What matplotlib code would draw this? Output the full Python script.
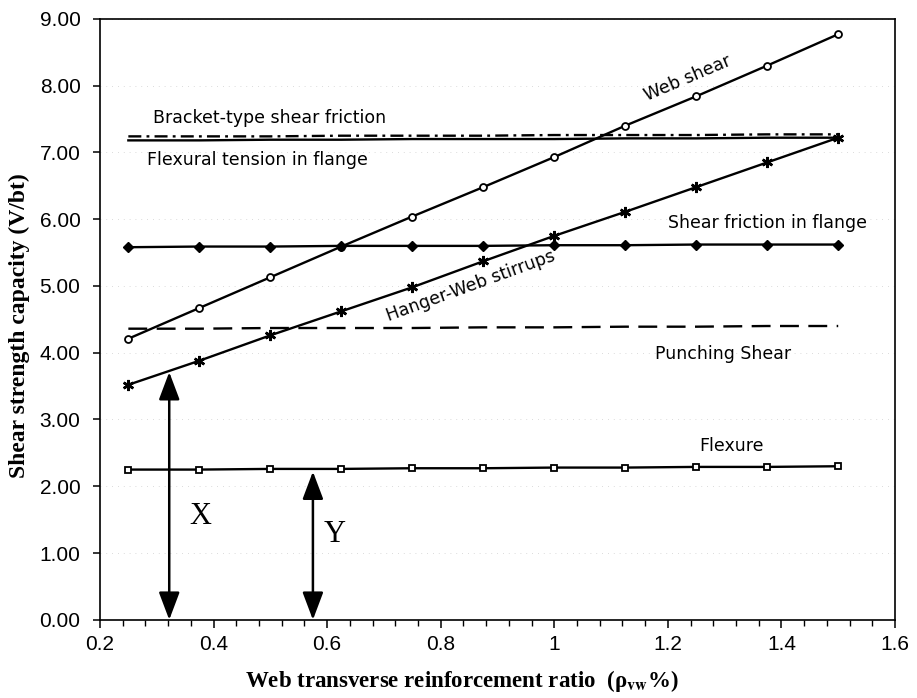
import matplotlib.pyplot as plt
import numpy as np

plt.rcParams['mathtext.fontset'] = 'stix'

# web transverse reinforcement ratio (%)
rho = [0.25, 0.375, 0.5, 0.625, 0.75, 0.875, 1.0, 1.125, 1.25, 1.375, 1.5]

web_shear = [4.21, 4.67, 5.13, 5.59, 6.04, 6.48, 6.93, 7.40, 7.84, 8.30, 8.77]
hanger_web = [3.52, 3.88, 4.26, 4.62, 4.98, 5.37, 5.75, 6.11, 6.48, 6.85, 7.22]
shear_friction_flange = [5.58, 5.59, 5.59, 5.60, 5.60, 5.60, 5.61, 5.61, 5.62, 5.62, 5.62]
flexure = [2.25, 2.25, 2.26, 2.26, 2.27, 2.27, 2.28, 2.28, 2.29, 2.29, 2.30]
punching_shear = [4.36, 4.36, 4.37, 4.37, 4.37, 4.38, 4.38, 4.39, 4.39, 4.40, 4.40]
bracket_friction = [7.24, 7.24, 7.24, 7.25, 7.25, 7.25, 7.26, 7.26, 7.26, 7.27, 7.27]
flexural_tension = [7.18, 7.18, 7.19, 7.19, 7.20, 7.20, 7.20, 7.21, 7.21, 7.22, 7.22]

# X and Y arrows
arrow_x = [0.322, 0.575]
arrow_top = [3.71, 2.22]
arrow_names = ['X', 'Y']

fig = plt.figure(figsize=(9.17, 6.98), dpi=100)
ax = fig.add_axes([0.109, 0.112, 0.867, 0.861])

lw = 1.7
ax.plot(rho, web_shear, '-', color='black', lw=lw, marker='o', ms=5,
        mfc='white', mec='black', mew=1.3)
ax.plot(rho, hanger_web, '-', color='black', lw=lw, marker=(6, 2, 0), ms=8,
        mec='black', mew=1.8)
ax.plot(rho, shear_friction_flange, '-', color='black', lw=lw, marker='D', ms=5,
        mfc='black', mec='black')
ax.plot(rho, flexure, '-', color='black', lw=lw, marker='s', ms=5,
        mfc='white', mec='black', mew=1.3)
ax.plot(rho, punching_shear, color='black', lw=lw, linestyle=(0, (8, 4)))
ax.plot(rho, bracket_friction, color='black', lw=lw, linestyle=(0, (5.5, 2.2, 1.2, 2.2)))
ax.plot(rho, flexural_tension, '-', color='black', lw=lw)

for xa, ya, name, dx, dy in zip(arrow_x, arrow_top, arrow_names, [0.054, 0.039], [1.55, 1.28]):
    ax.annotate('', xy=(xa, ya), xytext=(xa, 0.0),
                arrowprops=dict(arrowstyle='<|-|>,head_length=0.85,head_width=0.32',
                                mutation_scale=20, color='black', lw=1.8,
                                shrinkA=0, shrinkB=0))
    ax.text(xa + dx, dy, name, family='Liberation Serif', fontsize=22,
            ha='center', va='center')

lab = dict(family='DejaVu Sans', fontsize=12.5, color='black')
ax.text(0.293, 7.51, 'Bracket-type shear friction', ha='left', va='center', **lab)
ax.text(0.283, 6.88, 'Flexural tension in flange', ha='left', va='center', **lab)
ax.text(1.20, 5.95, 'Shear friction in flange', ha='left', va='center', **lab)
ax.text(1.177, 3.98, 'Punching Shear', ha='left', va='center', **lab)
ax.text(1.256, 2.60, 'Flexure', ha='left', va='center', **lab)
ax.text(1.235, 8.11, 'Web shear', ha='center', va='center', rotation=23, **lab)
ax.text(0.853, 5.0, 'Hanger-Web stirrups', ha='center', va='center', rotation=20, **lab)

ax.set_xlim(0.2, 1.6)
ax.set_ylim(0, 9)
ax.set_xticks(np.arange(0.2, 1.61, 0.2))
ax.set_xticklabels(['0.2', '0.4', '0.6', '0.8', '1', '1.2', '1.4', '1.6'])
ax.set_xticks(np.arange(0.2, 1.61, 0.04), minor=True)
ax.set_yticks(np.arange(0, 9.01, 1))
ax.set_yticklabels(['%.2f' % v for v in np.arange(0, 9.01, 1)])

ax.yaxis.grid(True, color='#cfcfcf', lw=0.6, linestyle=(0, (1, 6)))
ax.set_axisbelow(True)

ax.tick_params(which='major', direction='out', length=6, width=1.1)
ax.tick_params(axis='x', which='major', pad=5)
ax.tick_params(axis='y', which='major', pad=9, length=5)
ax.tick_params(which='minor', direction='out', length=4, width=1.0)
for t in ax.get_xticklabels() + ax.get_yticklabels():
    t.set_family('Liberation Sans')
    t.set_fontsize(15)
for s in ax.spines.values():
    s.set_linewidth(1.2)

ax.set_xlabel(r'Web transverse reinforcement ratio  (ρ$_{\mathbf{vw}}$%)',
              family='Liberation Serif', fontweight='bold', fontsize=16.5)
ax.xaxis.set_label_coords(0.455, -0.08)
ax.set_ylabel('Shear strength capacity (V/bt)', family='Liberation Serif',
              fontweight='bold', fontsize=17)
ax.yaxis.set_label_coords(-0.088, 0.49)

fig.savefig('out.png', dpi=100)
